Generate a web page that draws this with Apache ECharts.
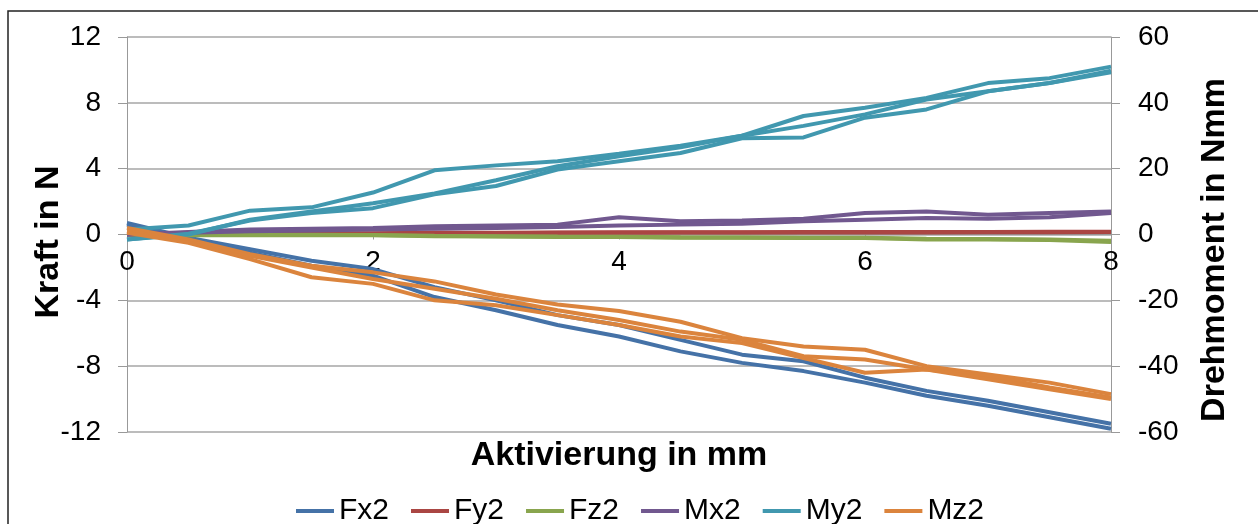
<!DOCTYPE html>
<html>
<head>
<meta charset="utf-8">
<script src="https://cdn.jsdelivr.net/npm/echarts@6/dist/echarts.min.js"></script>
<style>
html,body{margin:0;padding:0;background:#fff;}
#chart{width:1258px;height:524px;}
</style>
</head>
<body>
<div id="chart"></div>
<script>
// Activation in mm (x values)
const xValues = [0,0.5,1,1.5,2,2.5,3,3.5,4,4.5,5,5.5,6,6.5,7,7.5,8];

// Forces in N (left axis), two runs each
const fx2Run1 = [0.7,-0.2,-0.9,-1.6,-2.1,-3.2,-4.0,-4.9,-5.5,-6.4,-7.3,-7.7,-8.7,-9.5,-10.1,-10.8,-11.5];
const fx2Run2 = [0.6,-0.3,-1.1,-1.9,-2.5,-3.8,-4.6,-5.5,-6.2,-7.1,-7.8,-8.3,-9.0,-9.8,-10.4,-11.1,-11.8];
const fy2Run1 = [0,0,0.02,0.05,0.05,0.1,0.08,0.1,0.1,0.12,0.12,0.12,0.13,0.12,0.13,0.14,0.15];
const fy2Run2 = [0,0.02,0.05,0.07,0.08,0.1,0.1,0.12,0.13,0.13,0.14,0.15,0.15,0.15,0.15,0.16,0.17];
const fz2Run1 = [0,-0.05,-0.05,-0.05,-0.05,-0.1,-0.12,-0.15,-0.15,-0.2,-0.2,-0.22,-0.22,-0.3,-0.3,-0.33,-0.45];
const fz2Run2 = [0,-0.02,-0.03,-0.02,-0.03,-0.08,-0.1,-0.12,-0.13,-0.17,-0.18,-0.2,-0.2,-0.26,-0.28,-0.3,-0.38];

// Moments in Nmm (right axis)
const mx2Run1 = [0,0.75,1.5,1.75,2,2.5,2.75,3,5.25,4,4.25,4.75,6.5,7,6,6.5,7];
const mx2Run2 = [0,0.5,1,1.25,1.5,1.75,2,2.25,2.75,3,3.25,4,4.5,5,4.75,5.25,6.5];
const my2Run1 = [1.5,2.75,7.25,8.25,12.75,19.5,21,22.25,24.5,27,30,36,38.5,41.5,46,47.5,51];
const my2Run2 = [-1.5,0,4.5,7,9.5,12.5,16.5,20.75,23.75,26.5,30,33,36.5,41,43.5,46,49.75];
const my2Run3 = [-1.5,0.25,4.25,6.5,8,12.25,14.75,19.75,22.25,24.75,29.25,29.5,35.5,38,43.5,46,49.25];
const mz2Run1 = [2,-1.5,-6,-9.5,-11.5,-14.25,-18.25,-21.25,-23.25,-26.5,-31.5,-34,-35,-40,-42.5,-45,-48.5];
const mz2Run2 = [1,-2,-6.5,-10,-13.5,-16.5,-19.5,-23,-26,-29.5,-32,-37,-38,-41,-43,-46.5,-49.5];
const mz2Run3 = [0.5,-2.5,-7.5,-13,-15,-20,-21.5,-24.5,-27.5,-31,-33,-37.5,-42,-41,-44,-47,-50];

const seriesNames = ['Fx2','Fy2','Fz2','Mx2','My2','Mz2'];
const xTickLabels = ['0','2','4','6','8'];

const colors = {Fx2:'#4572A7',Fy2:'#AA4643',Fz2:'#89A54E',Mx2:'#71588F',My2:'#4198AF',Mz2:'#DB843D'};

function pairs(ys){ return xValues.map((x,i)=>[x,ys[i]]); }
function mk(name, ys, axis){
  return {
    name: name, type:'line', yAxisIndex: axis, data: pairs(ys),
    symbol:'none', showSymbol:false, smooth:false,
    lineStyle:{color:colors[name], width:4},
    itemStyle:{color:colors[name]},
    emphasis:{disabled:true}, animation:false
  };
}

const runs = [
  ['Fx2',[fx2Run1,fx2Run2],0],
  ['Fy2',[fy2Run1,fy2Run2],0],
  ['Fz2',[fz2Run1,fz2Run2],0],
  ['Mx2',[mx2Run1,mx2Run2],1],
  ['My2',[my2Run1,my2Run2,my2Run3],1],
  ['Mz2',[mz2Run1,mz2Run2,mz2Run3],1]
];
const series = [];
runs.forEach(r => r[1].forEach(ys => series.push(mk(r[0], ys, r[2]))));

const font = 'Liberation Sans, Arial, sans-serif';
const gridTop = 37, gridBottom = 92, H = 524;
const plotH = H - gridTop - gridBottom;
const chart = echarts.init(document.getElementById('chart'), null, {renderer:'canvas'});
chart.setOption({
  animation:false,
  backgroundColor:'#fff',
  color: seriesNames.map(n=>colors[n]),
  grid:{left:127, right:147, top:gridTop, bottom:gridBottom, containLabel:false},
  xAxis:{
    type:'value', min:0, max:8, interval:2, position:'bottom',
    offset: -plotH/2,
    axisLine:{show:true, onZero:false, lineStyle:{color:'#999', width:1}},
    axisTick:{show:true, length:5, lineStyle:{color:'#999'}},
    axisLabel:{fontFamily:font, fontSize:28, color:'#000', margin:14,
      formatter:(v)=>{ const i=[0,2,4,6,8].indexOf(v); return i>=0?xTickLabels[i]:''; }},
    splitLine:{show:false}
  },
  yAxis:[{
    type:'value', min:-12, max:12, interval:4, position:'left',
    axisLine:{show:true, onZero:false, lineStyle:{color:'#999', width:1}},
    axisTick:{show:true, length:9, lineStyle:{color:'#999'}},
    axisLabel:{fontFamily:font, fontSize:28, color:'#000', margin:26},
    splitLine:{show:true, lineStyle:{color:'#a6a6a6', width:1.5}}
  },{
    type:'value', min:-60, max:60, interval:20, position:'right',
    axisLine:{show:true, onZero:false, lineStyle:{color:'#999', width:1}},
    axisTick:{show:true, length:9, lineStyle:{color:'#999'}},
    axisLabel:{fontFamily:font, fontSize:28, color:'#000', margin:27},
    splitLine:{show:false}
  }],
  legend:{
    data: seriesNames, left:291, top:491, itemGap:22, itemWidth:38, itemHeight:4,
    icon:'rect',
    textStyle:{fontFamily:font, fontSize:30, color:'#000'},
    selectedMode:false
  },
  graphic:[
    {type:'rect', shape:{x:8, y:11, width:1300, height:600}, style:{fill:'none', stroke:'#222', lineWidth:1.5}, silent:true},
    {type:'text', x:619, y:456, style:{text:'Aktivierung in mm', font:'bold 34px Liberation Sans, Arial, sans-serif', fill:'#000', textAlign:'center', textVerticalAlign:'middle'}},
    {type:'text', x:49, y:242, rotation:Math.PI/2, style:{text:'Kraft in N', font:'bold 34px Liberation Sans, Arial, sans-serif', fill:'#000', textAlign:'center', textVerticalAlign:'middle'}},
    {type:'text', x:1215, y:250, rotation:Math.PI/2, style:{text:'Drehmoment in Nmm', font:'bold 34px Liberation Sans, Arial, sans-serif', fill:'#000', textAlign:'center', textVerticalAlign:'middle'}}
  ],
  series: series
});
</script>
</body>
</html>
